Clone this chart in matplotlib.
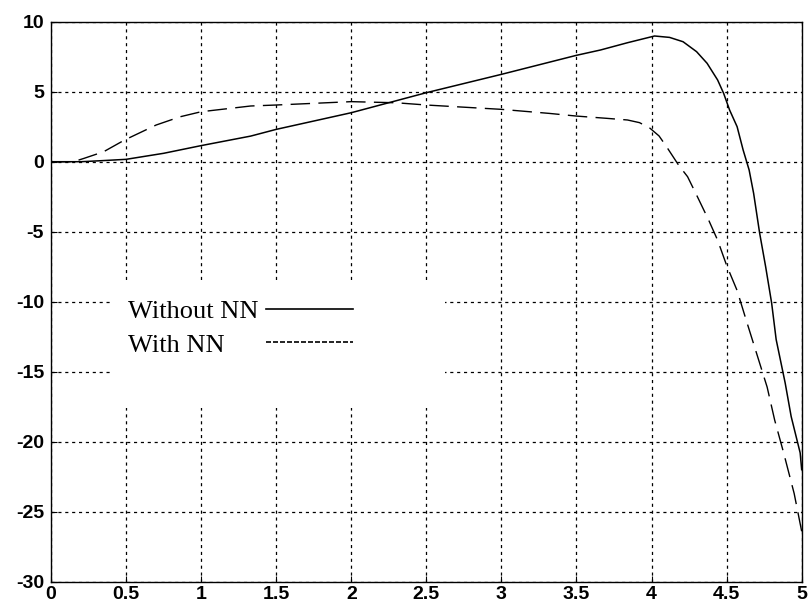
import matplotlib
matplotlib.use('Agg')
import matplotlib.pyplot as plt
from matplotlib.lines import Line2D
from matplotlib.patches import Rectangle

# curve: without NN (solid)
x_without = [0, 0.2, 0.33, 0.5, 0.75, 1.0, 1.33, 1.5, 2.0, 2.5, 3.0, 3.5, 3.66, 3.84, 4.02, 4.12,
             4.21, 4.30, 4.37, 4.44, 4.48, 4.52, 4.57, 4.61, 4.65, 4.68, 4.72, 4.76, 4.80, 4.83,
             4.89, 4.93, 4.99, 5.0]
y_without = [0, 0, 0.07, 0.17, 0.6, 1.15, 1.83, 2.31, 3.5, 4.93, 6.24, 7.6, 7.98, 8.5, 8.98, 8.88,
             8.57, 7.86, 7.03, 5.84, 4.89, 3.69, 2.5, 0.84, -0.59, -2.26, -5.1, -7.5, -10.1, -12.7,
             -15.8, -18.2, -20.8, -22.0]

# with NN (dashed)
x_with = [0, 0.15, 0.22, 0.35, 0.49, 0.70, 0.86, 1.0, 1.33, 1.5, 2.0, 2.3, 2.5, 3.0, 3.32, 3.5,
          3.70, 3.84, 3.92, 3.99, 4.05, 4.10, 4.18, 4.24, 4.30, 4.38, 4.44, 4.5, 4.57, 4.63, 4.70,
          4.77, 4.82, 4.88, 4.95, 5.0]
y_with = [0, 0, 0.24, 0.71, 1.55, 2.62, 3.21, 3.57, 3.98, 4.05, 4.29, 4.21, 4.05, 3.74, 3.45, 3.26,
          3.1, 2.98, 2.79, 2.39, 1.84, 1.07, -0.24, -1.07, -2.38, -4.16, -5.6, -7.4, -9.2, -11.3, -13.7,
          -16.1, -18.45, -20.8, -23.7, -26.4]

x_ticks = [0, 0.5, 1, 1.5, 2, 2.5, 3, 3.5, 4, 4.5, 5]
x_labels = ['0', '0.5', '1', '1.5', '2', '2.5', '3', '3.5', '4', '4.5', '5']
y_ticks = [-30, -25, -20, -15, -10, -5, 0, 5, 10]
y_labels = ['-30', '-25', '-20', '-15', '-10', '-5', '0', '5', '10']
legend_labels = ['Without NN', 'With NN     ']

fig = plt.figure(figsize=(8.11, 6.10), dpi=100)
ax = fig.add_axes([0.0629, 0.0464, 0.9256, 0.918])

ax.plot(x_without, y_without, color='black', lw=1.1, zorder=3)
ax.plot(x_with, y_with, color='black', lw=1.0, linestyle=(0, (14, 6)), zorder=3)

ax.set_xlim(0, 5)
ax.set_ylim(-30, 10)
ax.set_xticks(x_ticks)
ax.set_xticklabels(x_labels)
ax.set_yticks(y_ticks)
ax.set_yticklabels(y_labels)
ax.tick_params(direction='in', length=4, width=0.8, labelsize=14, pad=3)
ax.tick_params(axis='y', pad=5)
for lab in ax.get_xticklabels() + ax.get_yticklabels():
    lab.set_fontfamily('Liberation Sans')
    lab.set_fontweight('bold')

ax.grid(True, color='black', lw=0.9, linestyle=(0, (2.5, 3)))
for s in ax.spines.values():
    s.set_linewidth(1.0)

# white block behind the legend, hiding the grid
ax.add_patch(Rectangle((0.079, 0.31), 0.446, 0.229, transform=ax.transAxes,
                       facecolor='white', edgecolor='none', zorder=2))

handles = [Line2D([], [], color='black', lw=1.2),
           Line2D([], [], color='black', lw=1.2, linestyle=(0, (3, 1.2)))]
ax.legend(handles, legend_labels, loc='upper left', bbox_to_anchor=(0.102, 0.503),
          markerfirst=False, frameon=False, borderpad=0, borderaxespad=0,
          handlelength=3.3, handletextpad=0.3, labelspacing=0.37,
          prop={'family': 'Liberation Serif', 'size': 19})

fig.savefig('out.png', dpi=100)
